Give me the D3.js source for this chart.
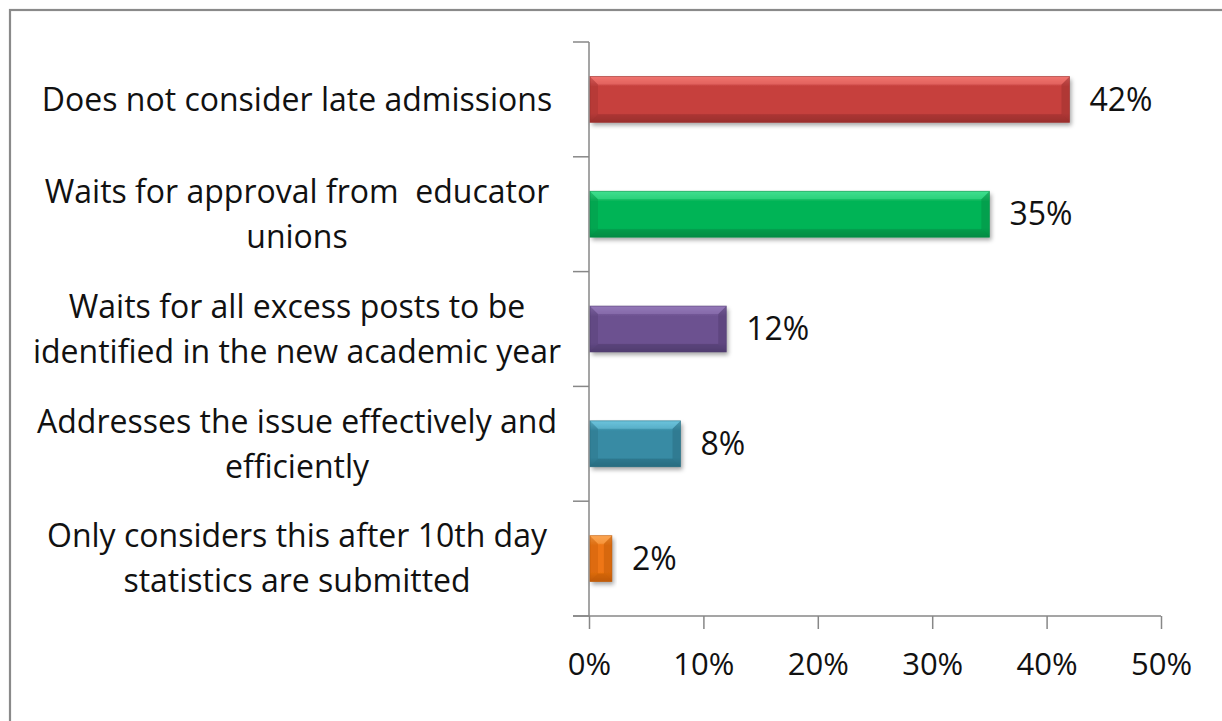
<!DOCTYPE html>
<html>
<head>
<meta charset="utf-8">
<script src="https://cdn.jsdelivr.net/npm/d3@7"></script>
<style>
  html, body { margin: 0; padding: 0; background: #fff; }
  svg { display: block; }
  text { font-family: "Open Sans", "Noto Sans", sans-serif; fill: #111; white-space: pre; }
</style>
</head>
<body>
<svg id="chart" width="1222" height="721"></svg>
<script>
// Survey responses: how the department handles excess educators
const categories = [
  ["Does not consider late admissions"],
  ["Waits for approval from  educator", "unions"],
  ["Waits for all excess posts to be", "identified in the new academic year"],
  ["Addresses the issue effectively and", "efficiently"],
  ["Only considers this after 10th day", "statistics are submitted"]
];
const values = [42, 35, 12, 8, 2];
const tickValues = [0, 10, 20, 30, 40, 50];
const tickLabels = ["0%", "10%", "20%", "30%", "40%", "50%"];

// face, light edge, dark edge per bar
const palettes = [
  { base: "#c6403e", light: "#f07470", dark: "#9a302e" },
  { base: "#06b457", light: "#3fe08f", dark: "#058c44" },
  { base: "#6c5190", light: "#9478b8", dark: "#513c70" },
  { base: "#378ba4", light: "#6cc3dc", dark: "#286c80" },
  { base: "#ee7612", light: "#fba552", dark: "#bf5a06" }
];

const svg = d3.select("#chart");
const W = 1222, H = 721;
const margin = { left: 589, right: 61, top: 42, bottom: 105 };

const x = d3.scaleLinear().domain([0, 50]).range([margin.left, W - margin.right]);
const y = d3.scaleBand().domain(d3.range(categories.length))
  .range([margin.top, H - margin.bottom]).paddingInner(0.6).paddingOuter(0.3);

// outer chart frame
svg.append("rect").attr("x", 10).attr("y", 10).attr("width", 1260).attr("height", 800)
  .attr("fill", "none").attr("stroke", "#8a8a8a").attr("stroke-width", 2.2);

const defs = svg.append("defs");
const shadow = defs.append("filter").attr("id", "shadow")
  .attr("x", "-10%").attr("y", "-30%").attr("width", "130%").attr("height", "180%");
shadow.append("feDropShadow").attr("dx", 2).attr("dy", 3).attr("stdDeviation", 2.2)
  .attr("flood-color", "#000").attr("flood-opacity", 0.35);

palettes.forEach((p, i) => {
  const g = defs.append("linearGradient").attr("id", "grad" + i)
    .attr("x1", 0).attr("y1", 0).attr("x2", 0).attr("y2", 1);
  g.append("stop").attr("offset", "0%").attr("stop-color", p.light);
  g.append("stop").attr("offset", "22%").attr("stop-color", p.base);
  g.append("stop").attr("offset", "80%").attr("stop-color", p.base);
  g.append("stop").attr("offset", "100%").attr("stop-color", p.dark);
});

// axes
const axisColor = "#878787";
const xAxis = d3.axisBottom(x).tickValues(tickValues)
  .tickFormat((d, i) => tickLabels[i]).tickSize(13).tickSizeOuter(0);
const gx = svg.append("g").attr("transform", `translate(0,${H - margin.bottom})`).call(xAxis);
gx.select(".domain").attr("stroke", axisColor).attr("stroke-width", 1.5)
  .attr("d", `M${margin.left - 16},0H${x(50)}`);
gx.selectAll(".tick line").attr("stroke", axisColor).attr("stroke-width", 1.5);
gx.selectAll(".tick text").attr("y", 48).attr("dy", "0.35em")
  .style("font-size", "31px").style("font-family", "'Open Sans', sans-serif").attr("fill", "#111");

// category boundaries on the vertical axis
const bounds = d3.range(categories.length + 1).map(i => margin.top + i * (H - margin.top - margin.bottom) / categories.length);
svg.append("line").attr("x1", margin.left).attr("x2", margin.left)
  .attr("y1", margin.top).attr("y2", H - margin.bottom)
  .attr("stroke", axisColor).attr("stroke-width", 1.5);
svg.selectAll(".ytick").data(bounds).join("line").attr("class", "ytick")
  .attr("x1", margin.left - 16).attr("x2", margin.left)
  .attr("y1", d => d).attr("y2", d => d)
  .attr("stroke", axisColor).attr("stroke-width", 1.5);

// bevelled bars
const bev = 8;
const bars = svg.selectAll(".bar").data(values).join("g").attr("class", "bar");
bars.each(function (v, i) {
  const g = d3.select(this);
  const x0 = x(0) + 1, x1 = x(v), y0 = y(i), y1 = y(i) + y.bandwidth();
  const p = palettes[i];
  const b = Math.min(bev, (x1 - x0) / 2);
  g.append("rect").attr("x", x0).attr("y", y0).attr("width", x1 - x0).attr("height", y1 - y0)
    .attr("fill", `url(#grad${i})`).attr("filter", "url(#shadow)");
  // left and right bevel faces
  g.append("path").attr("d", `M${x0},${y0}L${x0 + b},${y0 + b}L${x0 + b},${y1 - b}L${x0},${y1}Z`)
    .attr("fill", p.dark).attr("opacity", 0.35);
  g.append("path").attr("d", `M${x1},${y0}L${x1 - b},${y0 + b}L${x1 - b},${y1 - b}L${x1},${y1}Z`)
    .attr("fill", p.dark).attr("opacity", 0.5);
  // top highlight
  g.append("path").attr("d", `M${x0},${y0}L${x1},${y0}L${x1 - b},${y0 + b}L${x0 + b},${y0 + b}Z`)
    .attr("fill", p.light).attr("opacity", 0.55);
  // bottom shade
  g.append("path").attr("d", `M${x0},${y1}L${x1},${y1}L${x1 - b},${y1 - b}L${x0 + b},${y1 - b}Z`)
    .attr("fill", p.dark).attr("opacity", 0.55);
  g.append("rect").attr("x", x0).attr("y", y0).attr("width", x1 - x0).attr("height", y1 - y0)
    .attr("fill", "none").attr("stroke", p.dark).attr("stroke-width", 0.8).attr("opacity", 0.7);
});

// value labels
svg.selectAll(".val").data(values).join("text").attr("class", "val")
  .attr("x", (d) => x(d) + 20).attr("y", (d, i) => y(i) + y.bandwidth() / 2)
  .attr("dy", "0.35em").style("font-size", "32px").text(d => d + "%");

// category labels, centred lines
const labelX = 297, lineH = 45;
svg.selectAll(".cat").data(categories).join("text").attr("class", "cat")
  .attr("text-anchor", "middle").style("font-size", "32px")
  .each(function (lines, i) {
    const t = d3.select(this);
    const cy = y(i) + y.bandwidth() / 2;
    const first = cy - (lines.length - 1) * lineH / 2;
    lines.forEach((ln, k) => {
      t.append("tspan").attr("x", labelX).attr("y", first + k * lineH).attr("dy", "0.35em").text(ln);
    });
  });
</script>
</body>
</html>
